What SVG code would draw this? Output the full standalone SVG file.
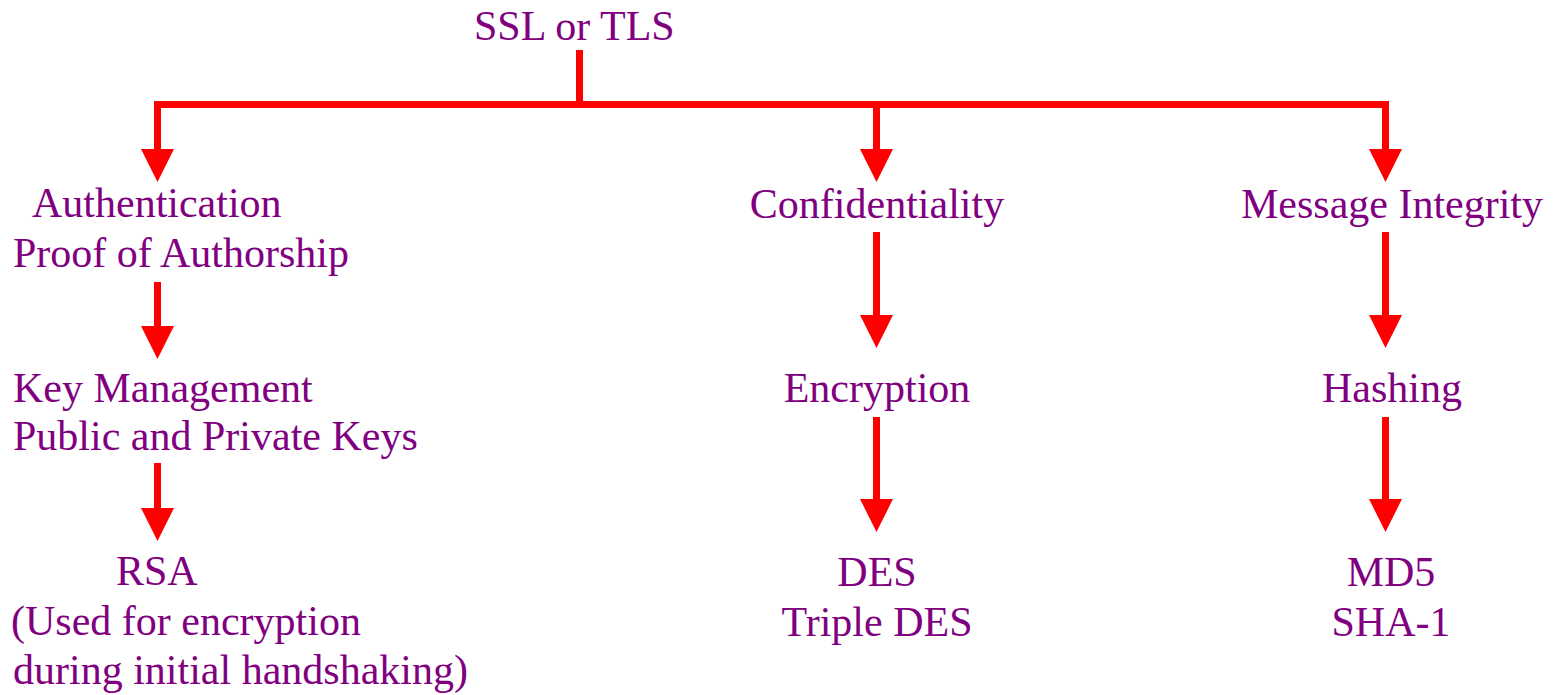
<svg xmlns="http://www.w3.org/2000/svg" width="1553" height="695" viewBox="0 0 1553 695">
<style>
.t{font-family:"Liberation Serif","Times New Roman",serif;font-size:42px;fill:#800080}
.m{text-anchor:middle}
.c{fill:none;stroke:#ff0000;stroke-width:7}
</style>
<defs>
<marker id="ah" markerUnits="userSpaceOnUse" viewBox="0 0 33 33" markerWidth="33" markerHeight="33" refX="0" refY="16.5" orient="auto">
<path d="M0,0 L33,16.5 L0,33 Z" fill="#ff0000"/>
</marker>
</defs>
<rect width="1553" height="695" fill="#ffffff"/>
<g id="connectors">
<path class="c" d="M579.5,50 V104.5"/>
<path class="c" d="M154,104.5 H1389"/>
<path class="c" d="M157.5,104.5 V149" marker-end="url(#ah)"/>
<path class="c" d="M876.5,104.5 V149" marker-end="url(#ah)"/>
<path class="c" d="M1385.5,104.5 V149" marker-end="url(#ah)"/>
<path class="c" d="M157.5,282 V326" marker-end="url(#ah)"/>
<path class="c" d="M157.5,463 V508" marker-end="url(#ah)"/>
<path class="c" d="M876.5,232 V315" marker-end="url(#ah)"/>
<path class="c" d="M876.5,417 V499" marker-end="url(#ah)"/>
<path class="c" d="M1385.5,232 V315" marker-end="url(#ah)"/>
<path class="c" d="M1385.5,417 V499" marker-end="url(#ah)"/>
</g>
<g id="ssl"><text class="t" x="474" y="40">SSL or TLS</text></g>
<g id="authentication">
<text class="t" x="32" y="217">Authentication</text>
<text class="t" x="13" y="267">Proof of Authorship</text>
</g>
<g id="keymanagement">
<text class="t" x="13" y="402">Key Management</text>
<text class="t" x="13" y="450">Public and Private Keys</text>
</g>
<g id="rsa">
<text class="t" x="116" y="585">RSA</text>
<text class="t" x="11" y="635">(Used for encryption</text>
<text class="t" x="13" y="684">during initial handshaking)</text>
</g>
<g id="confidentiality"><text class="t m" x="877" y="218">Confidentiality</text></g>
<g id="encryption"><text class="t m" x="877" y="402">Encryption</text></g>
<g id="des">
<text class="t m" x="877" y="586">DES</text>
<text class="t m" x="877" y="636">Triple DES</text>
</g>
<g id="integrity"><text class="t m" x="1392" y="218">Message Integrity</text></g>
<g id="hashing"><text class="t m" x="1392" y="402">Hashing</text></g>
<g id="md5">
<text class="t m" x="1391" y="586">MD5</text>
<text class="t m" x="1391" y="636">SHA-1</text>
</g>
</svg>
